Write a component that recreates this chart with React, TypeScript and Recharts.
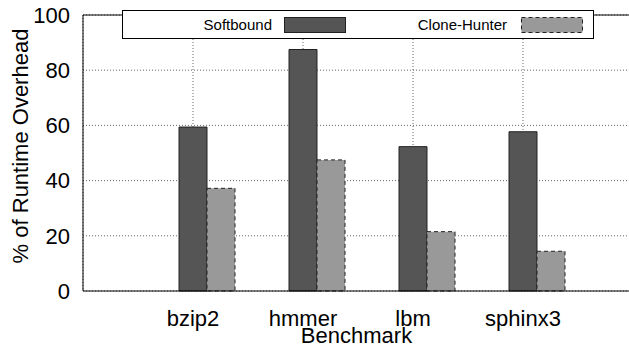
import { BarChart, Bar, XAxis, YAxis, CartesianGrid, Legend } from 'recharts'

const benchmarks = ['bzip2', 'hmmer', 'lbm', 'sphinx3']
const softbound = [59.4, 87.5, 52.3, 57.7]
const cloneHunter = [37.2, 47.5, 21.5, 14.4]
const yTicks = [0, 20, 40, 60, 80, 100]

const series = [
  { key: 'softbound', name: 'Softbound', fill: '#555555', dash: undefined as string | undefined },
  { key: 'cloneHunter', name: 'Clone-Hunter', fill: '#999999', dash: '4 3' },
]

const data = benchmarks.map((name, i) => ({
  name,
  softbound: softbound[i],
  cloneHunter: cloneHunter[i],
}))

const FONT = '"Liberation Sans", Arial, Helvetica, sans-serif'

// gnuplot-style key: text right-justified, then the sample box
const legendSlots = [
  { textEnd: 150, sampleX: 162 },
  { textEnd: 385, sampleX: 399 },
]

function KeyBox(props: any) {
  const payload = props.payload ?? []
  return (
    <svg width={472} height={29} style={{ display: 'block' }}>
      <rect x={0.5} y={0.5} width={471} height={28} fill="#fff" stroke="#000" />
      {series.map((s, i) => {
        const slot = legendSlots[i]
        const entry = payload.find((p: any) => p.dataKey === s.key)
        return (
          <g key={s.key}>
            <text x={slot.textEnd} y={20} textAnchor="end" fontSize={15} fontFamily={FONT} fill="#000">
              {entry?.value ?? s.name}
            </text>
            <rect
              x={slot.sampleX + 0.5}
              y={7.5}
              width={61}
              height={15}
              fill={entry?.color ?? s.fill}
              stroke="#222"
              strokeDasharray={s.dash}
            />
          </g>
        )
      })}
    </svg>
  )
}

function YTitle(props: any) {
  const vb = props.viewBox
  const x = vb.x + 27.5
  const y = vb.y + vb.height / 2 - 7
  return (
    <text x={x} y={y} transform={`rotate(-90 ${x} ${y})`} textAnchor="middle" fontSize={22} fontFamily={FONT} fill="#000">
      % of Runtime Overhead
    </text>
  )
}

function XTitle(props: any) {
  const vb = props.viewBox
  return (
    <text x={vb.x + vb.width / 2} y={343} textAnchor="middle" fontSize={22} fontFamily={FONT} fill="#000">
      Benchmark
    </text>
  )
}

export default function App() {
  return (
    <div style={{ position: 'absolute', left: 0, top: 0, width: 629, height: 352, overflow: 'hidden', background: '#fff' }}>
      <BarChart
        width={640}
        height={352}
        data={data}
        margin={{ top: 15, right: 10, left: 0, bottom: 0 }}
        barSize={28}
        barGap={0}
        style={{ fontFamily: FONT }}
      >
        <CartesianGrid stroke="#666" strokeDasharray="1 2" />
        <XAxis
          dataKey="name"
          height={61}
          padding={{ left: 55, right: 52 }}
          interval={0}
          tickLine={false}
          tickSize={0}
          tickMargin={19}
          axisLine={{ stroke: '#000' }}
          tick={{ fill: '#000', fontSize: 22, fontFamily: FONT }}
          label={{ content: XTitle }}
        />
        <XAxis
          xAxisId="top"
          orientation="top"
          mirror
          dataKey="name"
          padding={{ left: 55, right: 52 }}
          tick={false}
          tickLine={false}
          axisLine={{ stroke: '#000' }}
        />
        <YAxis
          width={83}
          domain={[0, 100]}
          ticks={yTicks}
          tickLine={false}
          tickSize={0}
          tickMargin={13}
          axisLine={{ stroke: '#000' }}
          tick={{ fill: '#000', fontSize: 22, fontFamily: FONT }}
          label={{ content: YTitle }}
        />
        <YAxis
          yAxisId="inL"
          orientation="left"
          mirror
          domain={[0, 100]}
          ticks={yTicks}
          tick={false}
          tickSize={9}
          axisLine={false}
          tickLine={{ stroke: '#000' }}
        />
        <YAxis
          yAxisId="inR"
          orientation="right"
          mirror
          domain={[0, 100]}
          ticks={yTicks}
          tick={false}
          tickSize={9}
          axisLine={{ stroke: '#000' }}
          tickLine={{ stroke: '#000' }}
        />
        <Legend
          layout="vertical"
          verticalAlign="middle"
          align="center"
          wrapperStyle={{ top: 10, left: 122, width: 472, height: 29 }}
          content={KeyBox}
        />
        {/* empty slot so Softbound sits centred on the tick, Clone-Hunter to its right */}
        <Bar dataKey="spacer" fill="none" legendType="none" isAnimationActive={false} />
        {series.map((s) => (
          <Bar
            key={s.key}
            dataKey={s.key}
            name={s.name}
            fill={s.fill}
            stroke="#222"
            strokeDasharray={s.dash}
            isAnimationActive={false}
          />
        ))}
      </BarChart>
    </div>
  )
}
